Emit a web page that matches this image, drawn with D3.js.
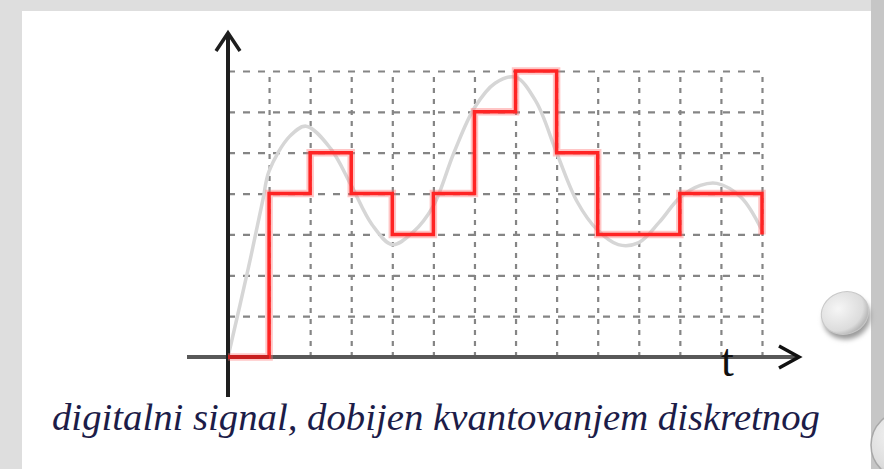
<!DOCTYPE html>
<html>
<head>
<meta charset="utf-8">
<script src="https://cdn.jsdelivr.net/npm/d3@7"></script>
<style>
  html, body { margin: 0; padding: 0; background: #dedede; }
  svg { display: block; }
</style>
</head>
<body>
<svg id="chart" width="884" height="469"></svg>
<script>
// quantized levels, one per time step (last column ends with a drop)
var levels = [0, 4, 5, 4, 3, 4, 6, 7, 5, 3, 3, 4, 4];
var endLevel = 3;

// analog signal (t in grid steps, value in grid units)
var analogT = [0, 0.5, 0.85, 1.0, 1.5, 1.9, 2.5, 3.0, 3.5, 4.0, 4.5, 5.0, 5.5, 6.0, 6.5, 7.0, 7.5, 8.0, 8.5, 9.0, 9.5, 10.0, 10.5, 11.0, 11.5, 11.9, 12.5, 13.0];
var analogV = [0, 2.2, 3.85, 4.55, 5.4, 5.65, 5.1, 4.2, 3.25, 2.75, 3.05, 3.7, 5.0, 6.1, 6.7, 6.85, 6.25, 5.0, 3.8, 3.1, 2.75, 2.8, 3.3, 3.9, 4.2, 4.25, 3.9, 3.1];

var caption = "digitalni signal, dobijen kvantovanjem diskretnog";

var svg = d3.select("#chart");

// slide background
svg.append("rect").attr("x", 0).attr("y", 0).attr("width", 884).attr("height", 469).attr("fill", "#dedede");
svg.append("rect").attr("x", 22).attr("y", 11).attr("width", 849).attr("height", 458).attr("fill", "#ffffff");
svg.append("rect").attr("x", 871).attr("y", 0).attr("width", 13).attr("height", 469).attr("fill", "#c6c6c6");

var x = d3.scaleLinear().domain([0, 13]).range([228, 762]);
var y = d3.scaleLinear().domain([0, 7]).range([357, 71]);

var g = svg.append("g");

// dashed grid via axes
var gx = g.append("g")
	.attr("transform", "translate(0," + y(0) + ")")
	.call(d3.axisBottom(x).tickValues(d3.range(1, 14)).tickSize(-(y(0) - y(7))).tickFormat(""));
gx.select(".domain").remove();
gx.selectAll(".tick line")
	.attr("stroke", "#858585")
	.attr("stroke-width", 2.2)
	.attr("stroke-dasharray", "5,6");

var gy = g.append("g")
	.attr("transform", "translate(" + x(0) + ",0)")
	.call(d3.axisLeft(y).tickValues(d3.range(1, 8)).tickSize(-(x(13) - x(0))).tickFormat(""));
gy.select(".domain").remove();
gy.selectAll(".tick line")
	.attr("stroke", "#858585")
	.attr("stroke-width", 2.2)
	.attr("stroke-dasharray", "7,8");

// analog curve
var analog = analogT.map(function(t, i) { return [t, analogV[i]]; });
g.append("path")
	.datum(analog)
	.attr("fill", "none")
	.attr("stroke", "#d6d6d6")
	.attr("stroke-width", 3.5)
	.attr("d", d3.line().x(function(d) { return x(d[0]); }).y(function(d) { return y(d[1]); }).curve(d3.curveCatmullRom.alpha(0.5)));

// axes lines
g.append("line")
	.attr("x1", 187).attr("x2", 797)
	.attr("y1", y(0)).attr("y2", y(0))
	.attr("stroke", "#585858").attr("stroke-width", 4);
g.append("path")
	.attr("d", "M779,346 L799," + y(0) + " L779,368")
	.attr("fill", "none").attr("stroke", "#111").attr("stroke-width", 3.5);

g.append("line")
	.attr("x1", x(0)).attr("x2", x(0))
	.attr("y1", 34).attr("y2", 397)
	.attr("stroke", "#1e1e1e").attr("stroke-width", 4);
g.append("path")
	.attr("d", "M216,51 L" + x(0) + ",33 L240,51")
	.attr("fill", "none").attr("stroke", "#1e1e1e").attr("stroke-width", 3.5);

// quantized step signal
var steps = levels.map(function(v, i) { return [i, v]; });
steps.push([13, levels[levels.length - 1]]);
steps.push([13, endLevel]);
var stepLine = d3.line().x(function(d) { return x(d[0]); }).y(function(d) { return y(d[1]); }).curve(d3.curveStepAfter);

g.append("path")
	.datum(steps)
	.attr("fill", "none")
	.attr("stroke", "#ff7070")
	.attr("stroke-opacity", 0.4)
	.attr("stroke-width", 7.5)
	.attr("d", stepLine);
g.append("path")
	.datum(steps)
	.attr("fill", "none")
	.attr("stroke", "#ff2424")
	.attr("stroke-width", 3.5)
	.attr("d", stepLine);
// darker where it runs on the axis
g.append("line")
	.attr("x1", x(0)).attr("x2", x(1))
	.attr("y1", y(0)).attr("y2", y(0))
	.attr("stroke", "#c81e1e").attr("stroke-width", 4);

// t label
g.append("text")
	.attr("x", 721).attr("y", 376)
	.style("font-family", "'Liberation Serif', 'DejaVu Serif', serif")
	.style("font-size", "46px")
	.attr("fill", "#111")
	.text("t");

// caption
svg.append("text")
	.attr("x", 52).attr("y", 430)
	.style("font-family", "'Liberation Serif', 'DejaVu Serif', 'Noto Serif', serif")
	.style("font-style", "italic")
	.style("font-size", "38px")
	.attr("fill", "#1c1c48")
	.attr("textLength", 768)
	.attr("lengthAdjust", "spacingAndGlyphs")
	.text(caption);

// decorative slide buttons
var defs = svg.append("defs");
var grad = defs.append("radialGradient").attr("id", "btn").attr("cx", "40%").attr("cy", "35%").attr("r", "65%");
grad.append("stop").attr("offset", "0%").attr("stop-color", "#f6f6f6");
grad.append("stop").attr("offset", "80%").attr("stop-color", "#dcdcdc");
grad.append("stop").attr("offset", "100%").attr("stop-color", "#b8b8b8");
var blur = defs.append("filter").attr("id", "sh").attr("x", "-50%").attr("y", "-50%").attr("width", "200%").attr("height", "200%");
blur.append("feGaussianBlur").attr("stdDeviation", 2.5);

svg.append("ellipse")
	.attr("cx", 847).attr("cy", 318).attr("rx", 24).attr("ry", 21)
	.attr("transform", "rotate(-20,847,318)")
	.attr("fill", "#9a9a9a").attr("filter", "url(#sh)");
svg.append("ellipse")
	.attr("cx", 845).attr("cy", 313).attr("rx", 24).attr("ry", 21)
	.attr("transform", "rotate(-20,845,313)")
	.attr("fill", "url(#btn)").attr("stroke", "#c8c8c8").attr("stroke-width", 1);

svg.append("circle")
	.attr("cx", 905).attr("cy", 445).attr("r", 34)
	.attr("fill", "url(#btn)").attr("stroke", "#a8a8a8").attr("stroke-width", 1.5);
</script>
</body>
</html>
